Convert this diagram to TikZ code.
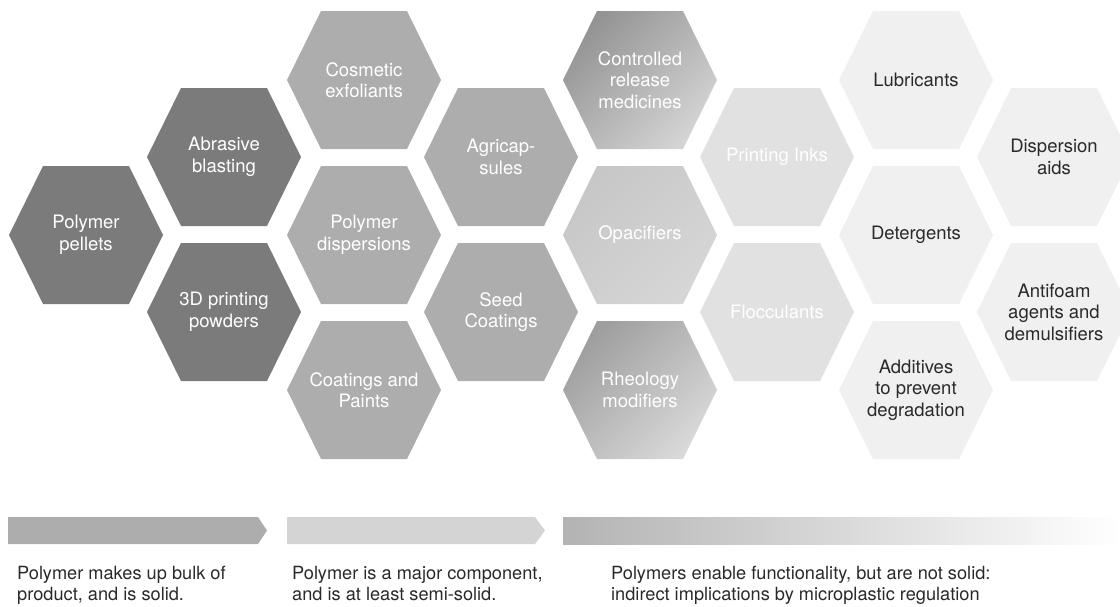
\documentclass[tikz,border=0pt]{standalone}
\usepackage{fontspec}
\setmainfont{TeX Gyre Heros}
\definecolor{cDark}{HTML}{7B7B7B}
\definecolor{cMid}{HTML}{ADADAD}
\definecolor{cLight}{HTML}{E1E1E1}
\definecolor{cPale}{HTML}{F0F0F0}
\definecolor{cTxt}{HTML}{2A2A2A}
\definecolor{cBarA}{HTML}{ADADAD}
\definecolor{cBarB}{HTML}{D4D4D4}
\definecolor{cBarC}{HTML}{B3B3B3}
\newcommand\hexcell[6]{%
  \path[#4] ({#2-77},{#3}) -- ({#2-43},{#3-69}) -- ({#2+43},{#3-69}) -- ({#2+77},{#3})
    -- ({#2+43},{#3+69}) -- ({#2-43},{#3+69}) -- cycle;
  \node[#5] (#1) at (#2,#3) {#6};}
\begin{document}
\begin{tikzpicture}[x=1pt,y=-1pt,
  hextext/.style={text=white, align=center, inner sep=0pt,
    font=\fontsize{18.5}{21.5}\selectfont},
  darktext/.style={hextext, text=cTxt},
  hDark/.style={fill=cDark},
  hMid/.style={fill=cMid},
  hOpac/.style={top color=black!22, bottom color=black!16, shading angle=45},
  hLight/.style={fill=cLight},
  hPale/.style={fill=cPale},
  hCtrl/.style={top color=black!42, bottom color=black!17, shading angle=45},
  hRheo/.style={top color=black!38, bottom color=black!15, shading angle=45},
  captext/.style={text=cTxt, align=left, inner sep=0pt, anchor=north west,
    font=\fontsize{18.2}{20.8}\selectfont}
]
\useasboundingbox (0,0) rectangle (1120,606);
\clip (0,0) rectangle (1120,606);
% column 1-2
\hexcell{pellets}{86}{235}{hDark}{hextext}{Polymer\\pellets}
\hexcell{abrasive}{224}{157}{hDark}{hextext}{Abrasive\\blasting}
\hexcell{printing3d}{224}{312}{hDark}{hextext}{3D printing\\powders}
% column 3
\hexcell{cosmetic}{364}{80}{hMid}{hextext}{Cosmetic\\exfoliants}
\hexcell{dispersions}{364}{235}{hMid}{hextext}{Polymer\\dispersions}
\hexcell{coatings}{364}{390}{hMid}{hextext}{Coatings and\\Paints}
% column 4
\hexcell{agri}{501}{157}{hMid}{hextext}{Agricap-\\sules}
\hexcell{seed}{501}{312}{hMid}{hextext}{Seed\\Coatings}
% column 5
\hexcell{controlled}{640}{80}{hCtrl}{hextext}{Controlled\\release\\medicines}
\hexcell{opac}{640}{235}{hOpac}{hextext}{Opacifiers}
\hexcell{rheo}{640}{390}{hRheo}{hextext}{Rheology\\modifiers}
% column 6
\hexcell{inks}{777}{157}{hLight}{hextext}{Printing Inks}
\hexcell{floc}{777}{312}{hLight}{hextext}{Flocculants}
% column 7
\hexcell{lubri}{916}{80}{hPale}{darktext}{Lubricants}
\hexcell{deterg}{916}{235}{hPale}{darktext}{Detergents}
\hexcell{additives}{916}{390}{hPale}{darktext}{Additives\\to prevent\\degradation}
% column 8
\hexcell{dispaids}{1054}{157}{hPale}{darktext}{Dispersion\\aids}
\hexcell{antifoam}{1054}{312}{hPale}{darktext}{Antifoam\\agents and\\demulsifiers}
% bars
\fill[cBarA] (8,517) -- (258,517) -- (267,530.5) -- (258,544) -- (8,544) -- cycle;
\fill[cBarB] (287,517) -- (535,517) -- (545,530.5) -- (535,544) -- (287,544) -- cycle;
\shade[left color=cBarC, right color=white] (563,517) rectangle (1120,544);
% captions
\node[captext] (capA) at (17,566) {Polymer makes up bulk of\\product, and is solid.};
\node[captext] (capB) at (292,566) {Polymer is a major component,\\and is at least semi-solid.};
\node[captext] (capC) at (611,566) {Polymers enable functionality, but are not solid:\\indirect implications by microplastic regulation};
\end{tikzpicture}
\end{document}
